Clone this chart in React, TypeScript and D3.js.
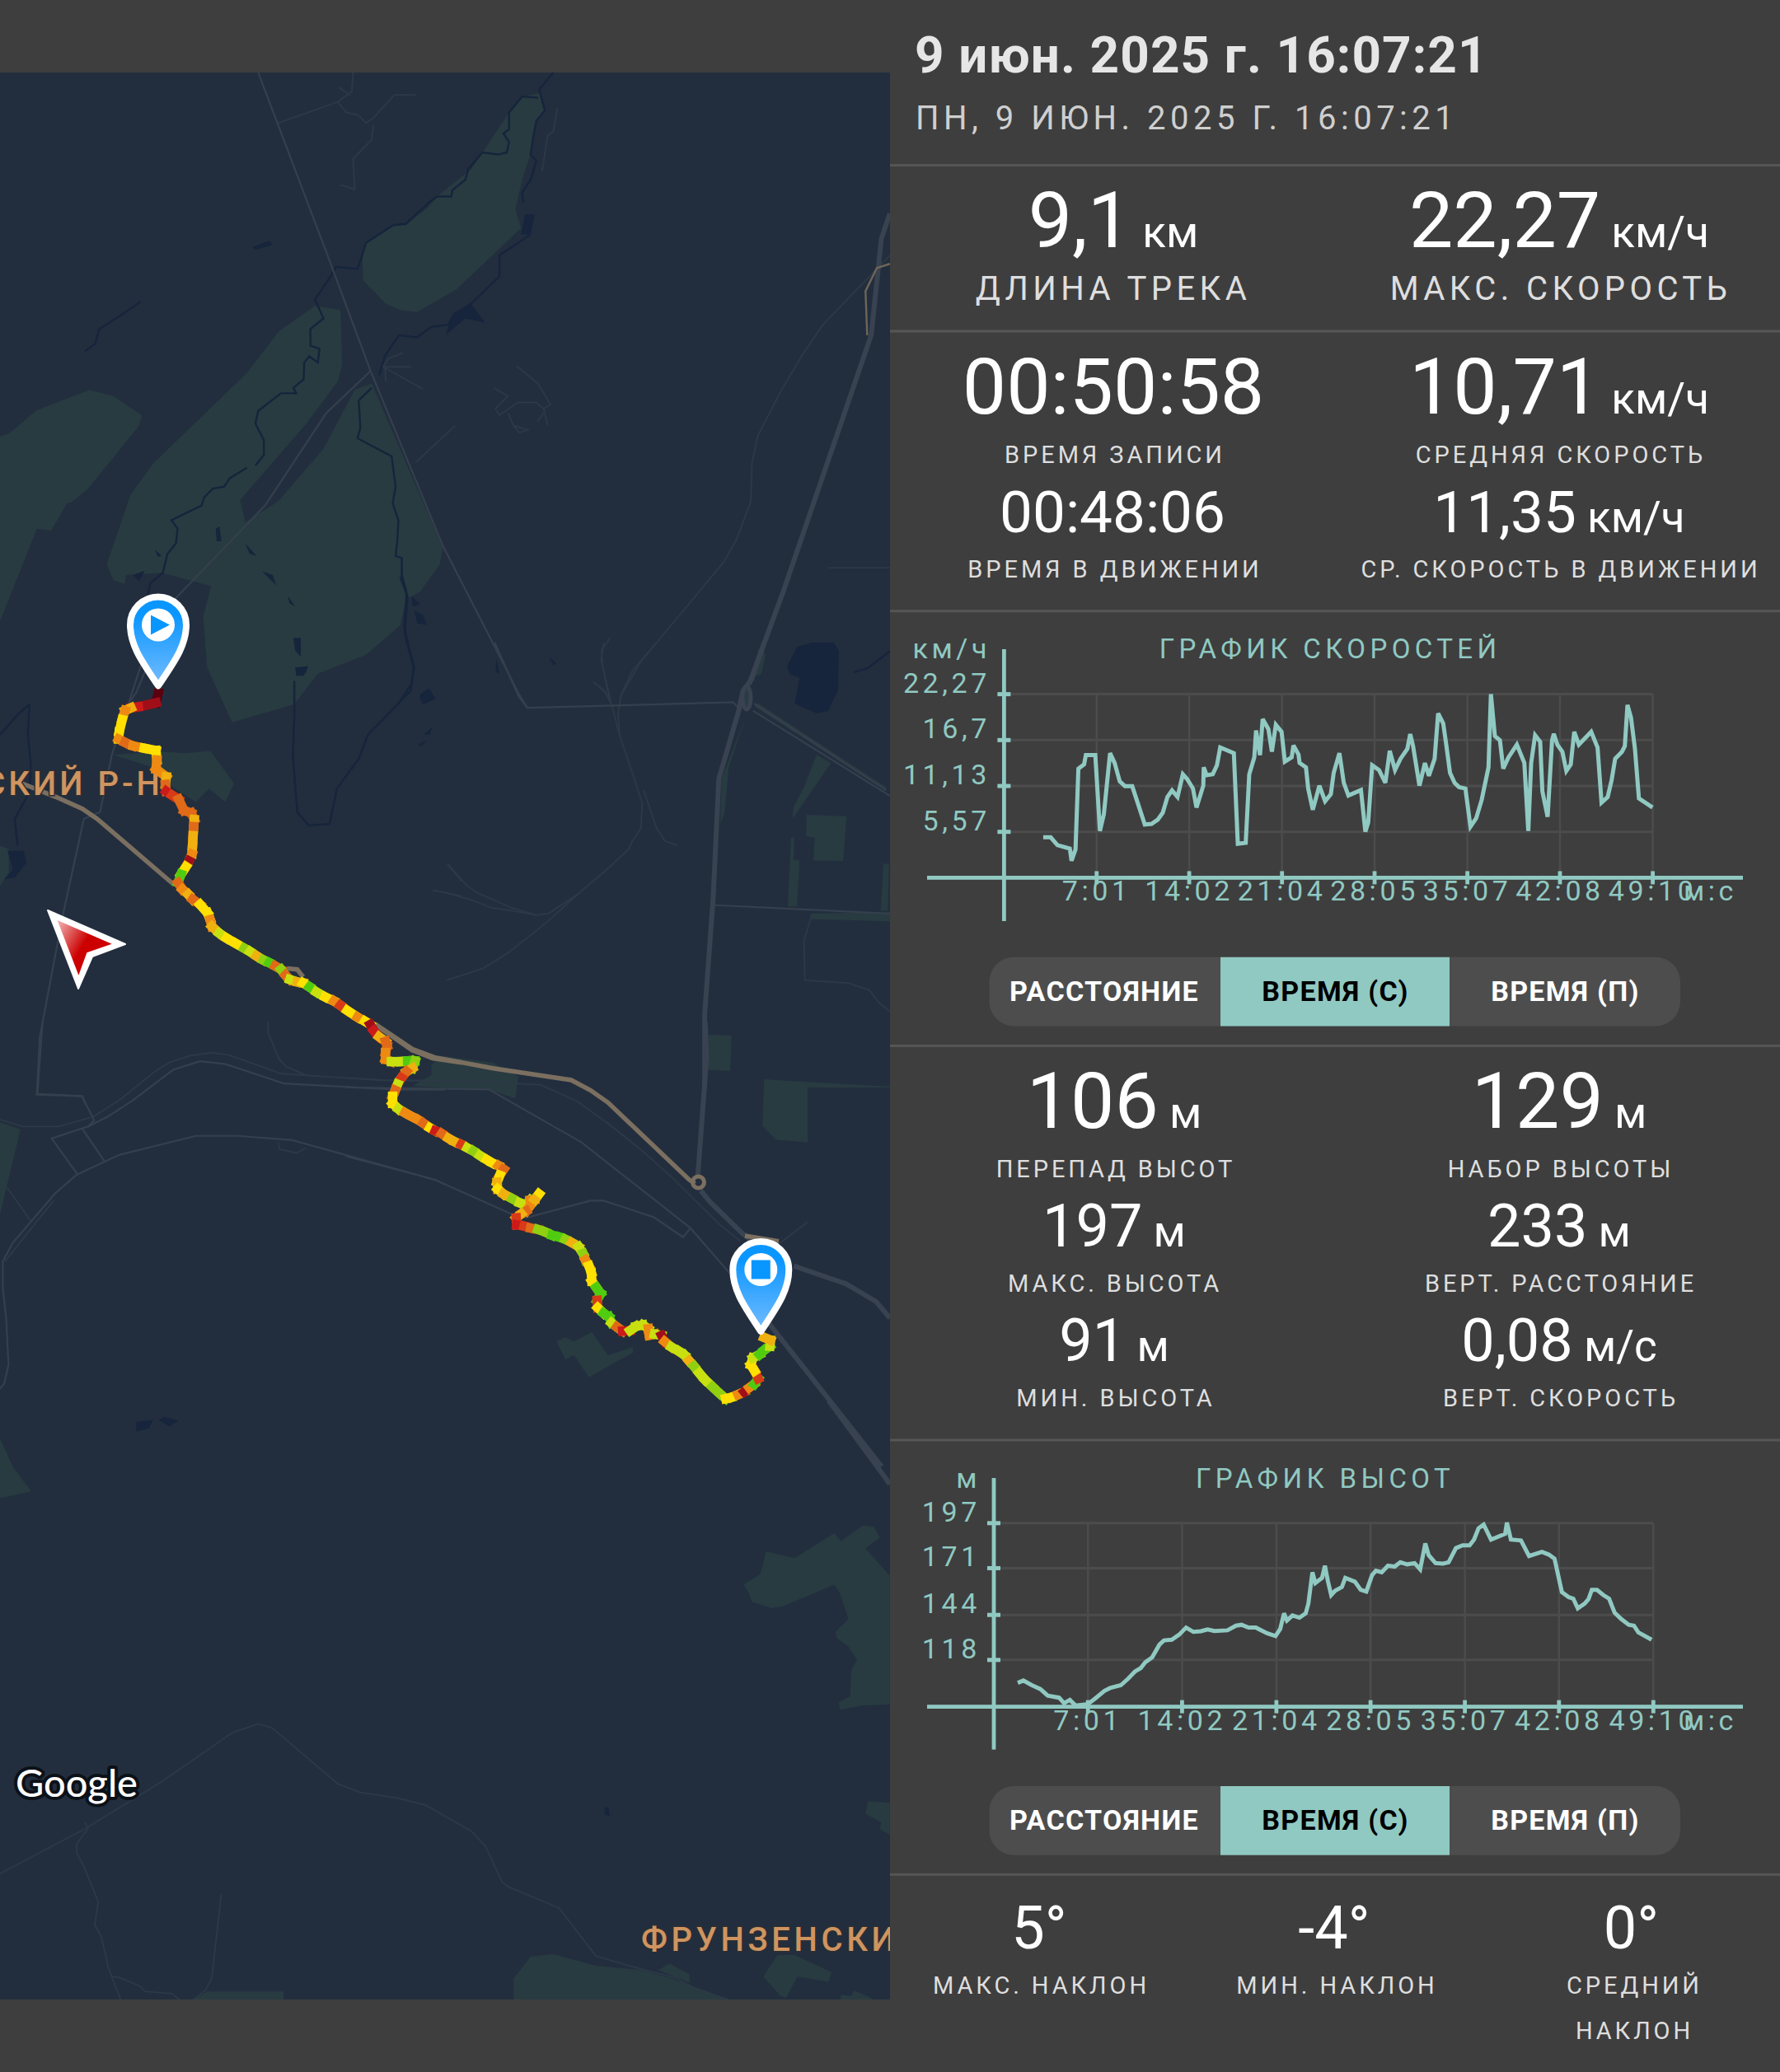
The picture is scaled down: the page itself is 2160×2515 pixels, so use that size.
import React from 'react';
import * as d3 from 'd3';

/* ---------- chart data ---------- */
const timeTickSeconds = [421, 842, 1264, 1685, 2107, 2528, 2950];
const timeTickLabels = ['7:01', '14:02', '21:04', '28:05', '35:07', '42:08', '49:10'];
const speedTicks = [5.57, 11.13, 16.7, 22.27];
const speedTickLabels = ['5,57', '11,13', '16,7', '22,27'];
const altitudeTicks = [118, 144, 171, 197];
const altitudeTickLabels = ['118', '144', '171', '197'];

const speedTimes = [178,212,243,299,307,325,338,364,372,415,436,454,482,503,526,550,583,640,671,699,722,743,764,789,813,833,859,875,906,908,921,949,968,983,1045,1063,1099,1115,1138,1146,1164,1176,1202,1218,1236,1262,1277,1308,1316,1339,1344,1373,1383,1404,1434,1460,1486,1499,1525,1545,1566,1623,1643,1656,1674,1705,1734,1754,1778,1803,1834,1847,1860,1889,1914,1932,1958,1974,1997,2010,2028,2049,2069,2098,2121,2147,2172,2203,2214,2232,2255,2270,2294,2332,2366,2384,2397,2415,2438,2448,2472,2492,2500,2516,2539,2557,2577,2593,2614,2670,2699,2717,2745,2763,2779,2810,2823,2835,2851,2869,2887,2949];
const speedValues = [4.91,4.91,3.95,3.54,2.06,3.44,13.23,13.75,14.88,14.88,5.67,7.73,15.12,13.92,11.69,11.10,11.10,6.46,6.53,7.05,7.91,9.80,10.59,9.80,12.55,11.96,10.83,8.52,11.17,13.40,12.44,12.55,13.64,15.81,15.12,4.12,4.23,12.55,14.61,17.87,14.88,19.25,18.04,15.29,18.56,17.70,14.09,14.61,16.05,14.95,13.92,13.40,10.83,8.25,11.17,9.28,10.14,12.72,15.12,11.51,9.97,10.65,5.60,6.70,13.64,13.06,11.51,15.40,13.06,14.44,15.64,17.43,15.98,11.17,13.92,12.37,14.44,19.93,18.73,16.33,12.72,11.51,11.00,10.83,6.19,7.22,9.45,13.40,22.27,17.19,16.67,13.23,14.61,16.15,13.92,5.67,13.92,17.29,16.50,10.48,7.39,16.67,17.46,16.15,15.29,12.96,13.75,17.70,16.15,17.70,15.81,9.11,9.80,11.86,14.44,15.29,15.98,20.97,19.42,15.64,9.62,8.52];

const altitudeTimes = [107,132,170,208,241,292,314,340,365,421,454,495,520,568,601,631,657,677,708,741,761,796,829,860,893,926,956,987,1045,1083,1108,1139,1172,1222,1260,1281,1298,1311,1336,1367,1395,1407,1425,1438,1468,1481,1494,1509,1527,1557,1572,1615,1641,1666,1692,1709,1735,1763,1793,1818,1849,1882,1907,1930,1945,1976,2009,2034,2067,2097,2128,2148,2168,2191,2224,2287,2295,2313,2358,2394,2452,2483,2508,2541,2572,2592,2612,2643,2660,2675,2698,2726,2752,2777,2807,2840,2863,2883,2942];
const altitudeValues = [104.8,106.1,103.4,101.2,97.4,96.2,93,94.9,91.7,92.5,95.8,100.2,101.8,103.4,107.2,111.3,113.3,116.6,119.5,126.9,129.3,129.7,132.6,136.7,134.2,134.6,135.6,134.7,135.1,137.8,138.3,136.7,136.7,133.4,131.8,135.9,144.9,140.8,143.7,142.4,144.9,150.6,168.6,162.4,165.4,172.4,163.7,155.5,158,160.1,165.4,163.2,158.5,157.5,167,169.5,168.6,172.4,171.9,174.4,173.2,173.9,170.3,185.3,178.5,173.9,173.6,174.4,182.6,184.2,184.2,187.5,194,196.2,187.5,190.8,197.3,187.5,187,178,180.4,178.8,176.5,157.2,154.2,153.4,147.8,150.6,153.1,158.5,158.5,155.5,153.4,145.2,141.6,138.3,137.8,133.9,129.7];

/* ---------- route: grid x, grid y, speed band ---------- */
const speedBandColors = ['#5a0010','#a00f18','#cc1a1a','#d83a18','#e06a18','#ee8a12','#f0b010','#ffe000','#c8e010','#90d010','#50cc10'];
const routeNorth: number[][] = [[538,345,0],[530,375,1],[497,382,1],[470,387,2],[445,390,6],[425,398,5],[415,425,7],[405,462,7],[403,483,5],[425,493,4],[452,503,5],[490,510,7],[530,517,7],[533,545,5],[530,572,5],[565,595,6],[562,618,4],[565,638,2],[585,650,3],[607,662,4],[625,695,4],[650,703,4],[660,722,6],[658,743,4],[656,770,6],[654,800,6],[652,825,5],[642,845,1],[632,862,7],[615,885,10],[605,910,4],[620,930,5],[640,945,6],[655,960,4],[680,975,7],[705,1000,7],[714,1020,5],[720,1040,6],[745,1060,8],[770,1075,7],[800,1090,7],[830,1105,9],[850,1115,8],[872,1128,6],[895,1140,9],[915,1148,10],[935,1158,4],[955,1168,9],[970,1185,4],[985,1198,8],[1010,1205,6],[1030,1208,7],[1052,1220,10],[1075,1235,8],[1105,1250,7],[1135,1262,5],[1157,1275,3],[1180,1290,7],[1215,1310,5],[1240,1322,7],[1258,1332,1],[1270,1350,2],[1288,1368,6],[1310,1382,4],[1315,1395,4],[1310,1415,5],[1310,1435,5],[1330,1442,8],[1360,1442,8],[1385,1440,10],[1410,1440,9]];
const routeSouth: number[][] = [[225,170,6],[205,182,4],[188,205,3],[175,228,8],[167,250,4],[158,272,7],[158,298,7],[178,318,8],[200,332,5],[222,345,5],[245,358,5],[262,370,4],[285,387,7],[303,398,2],[325,408,4],[348,425,6],[368,437,6],[392,448,3],[412,460,8],[433,472,9],[455,488,8],[478,503,7],[497,515,7],[518,525,5],[535,538,4],[522,560,7],[513,585,6],[515,610,7],[535,628,6],[565,645,9],[590,660,8],[610,667,8],[625,650,5],[640,648,6],[655,628,7],[640,650,6],[622,675,5],[612,690,4],[595,700,6],[578,715,3],[580,740,2],[605,745,3],[627,752,4],[652,757,9],[678,767,9],[700,778,10],[725,785,10],[745,793,9],[767,805,6],[790,820,8],[805,845,9],[813,868,5],[825,890,7],[833,915,7],[835,945,7],[850,968,10],[865,990,10],[853,1015,3],[855,1042,7],[875,1062,10],[893,1075,10],[902,1097,8],[920,1112,4],[940,1127,2],[965,1125,8],[985,1110,8],[1008,1105,8],[1027,1118,5],[1030,1142,5],[1048,1138,8],[1072,1143,1],[1082,1165,5],[1105,1185,8],[1130,1200,8],[1150,1215,8],[1165,1235,6],[1182,1255,9],[1200,1280,8],[1220,1305,8],[1245,1330,9],[1270,1355,9],[1290,1373,7],[1310,1368,7],[1332,1358,5],[1353,1348,1],[1370,1333,5],[1387,1320,10],[1400,1300,3],[1388,1272,7],[1375,1250,7],[1382,1225,8],[1405,1212,10],[1420,1197,10],[1440,1182,8],[1442,1160,6],[1420,1150,5]];

/* ---------- basemap geometry, in grid units per map sheet ---------- */
type Feat = [string, number[]];
const forests: Feat[] = [
  ['N',[948,105,920,112,897,150,865,215,830,285,770,350,755,375,715,418,695,418,645,460,638,490,640,550,680,605,705,620,735,625,805,570,918,425,908,380,922,300,935,250,945,170,960,145,952,105]],
  ['N',[555,610,600,620,603,750,595,790,540,890,423,1072,432,1125,490,1075,570,950,625,810,655,795,780,1185,775,1225,740,1290,715,1310,705,1370,645,1440,560,1485,518,1558,409,1601,365,1470,358,1350,372,1277,285,1245,222,1250,220,1272,200,1262,188,1225,230,1060,270,985,435,770,492,670]],
  ['N',[0,920,15,915,65,858,158,810,200,825,250,870,245,895,155,1045,125,1078,118,1080,90,1145,65,1140,0,1360]],
  ['A',[385,530,540,520,630,525,715,518,795,615,765,670,710,630,665,670,560,610,510,565]],
  ['A',[0,800,30,810,30,880,0,920]],
  ['W',[0,355,72,380,0,680]],
  ['W',[0,1470,45,1568,0,1568]],
  ['S',[1310,430,1340,405,1350,352,1400,368,1470,310,1482,328,1520,292,1540,295,1550,320,1525,345,1568,410,1568,710,1520,712,1480,722,1478,705,1498,690,1500,630,1510,605,1495,575,1475,555,1472,540,1495,510,1480,450,1470,430,1380,480,1360,485,1325,470,1320,450]],
  ['S',[905,1400,905,1350,935,1298,975,1293,1050,1320,1130,1330,1185,1350,1285,1400]],
  ['S',[1160,1330,1180,1315,1215,1340,1215,1360]],
  ['S',[1345,1345,1370,1295,1400,1295,1465,1335,1460,1358,1405,1345,1385,1395,1375,1390]],
  ['S',[1480,1400,1482,1388,1500,1390,1505,1378,1535,1395,1538,1400]],
  ['S',[340,1400,365,1380,500,1380,500,1400]],
  ['S',[1530,935,1568,940,1568,1015,1550,1000,1553,985,1525,965]],
  ['S',[0,115,55,212,0,228]],
  ['B',[715,1165,745,1150,775,1165,835,1130,890,1215,975,1185,975,1205,825,1295,775,1215,745,1230]],
  ['B',[1230,50,1310,55,1305,180,1230,175]],
  ['B',[1420,210,1568,225,1568,440,1460,430,1415,380]],
  ['B',[290,155,330,125,500,150,585,200,575,280,490,250,225,235,290,195]],
  ['E',[1310,395,1360,425,1225,620,1228,580,1265,510]],
  ['E',[1275,607,1415,612,1403,770,1298,768,1303,688,1272,682]],
  ['E',[1220,688,1230,688,1228,765,1250,768,1240,930,1208,930]],
  ['E',[1545,780,1565,780,1560,945,1535,945]],
  ['E',[1290,955,1568,950,1568,982,1285,975]],
  ['E',[932,1382,1008,1385,1003,1440,988,1472,1005,1475,1005,1510,925,1505]],
  ['E',[1130,1540,1568,1565,1568,1568,1128,1568]],
  ['E',[1060,260,1040,320,1000,440,985,600,970,640,975,480]],
  ['E',[1105,20,1130,40,1115,110,1090,120]],
  ['E',[1090,225,1555,525,1555,510,1105,215]],
];
const ponds: Feat[] = [
  ['E',[1205,85,1240,15,1290,0,1370,0,1388,30,1385,170,1350,240,1310,250,1232,215,1250,125,1215,110]],
  ['N',[445,470,475,455,480,465,450,477]],['N',[380,1140,387,1135,390,1170,382,1170]],['N',[273,1190,285,1205,278,1207]],
  ['N',[235,1250,255,1240,245,1265]],['N',[432,1175,452,1205,440,1200]],['N',[462,1242,480,1250,487,1275]],
  ['N',[507,1300,520,1325,510,1318]],['N',[517,1400,530,1400,530,1445,520,1430]],['N',[520,1470,543,1468,535,1490,522,1490]],
  ['N',[725,1300,740,1320,727,1325]],['N',[730,1335,745,1345,753,1370,735,1365]],['N',[740,1535,755,1520,767,1545,745,1558]],
  ['N',[875,1450,880,1485,873,1480]],['N',[967,1445,980,1460,975,1465]],['N',[795,640,830,605,855,650,820,640,785,680]],
  ['N',[925,392,942,392,935,440,918,440]],
  ['S',[240,50,270,45,262,65,240,72]],['S',[280,45,290,38,315,47,298,60]],['S',[1065,950,1072,950,1075,970,1065,968]],
  ['A',[1425,360,1460,335,1478,360,1440,380]],['A',[1440,470,1470,445,1460,470]],['A',[1420,500,1450,485,1430,505]],
  ['A',[1005,275,1045,265,1040,285,1010,295]],['A',[25,815,80,815,90,850,50,895,15,900,45,870]],
];
const streams: Feat[] = [
  ['N',[975,55,950,95,960,145,945,170,940,205,935,250,945,265,935,310,920,340,922,365]],
  ['N',[935,440,880,490,880,540,830,605]],
  ['N',[948,115,920,112,897,150,897,190,887,200,897,220,893,245,878,250,850,245,825,285,820,310,797,335,795,350,770,350,755,365,715,415,693,418,645,460,638,490,630,522,592,517,585,535,555,595,570,640,547,665,547,705,563,712,560,745,545,730,536,745,535,785,517,805,522,818,495,818,455,860,450,890,465,930,465,965,450,990]],
  ['N',[435,995,405,1020,395,1040,375,1045,360,1065,355,1085,302,1120,313,1140,310,1175,295,1200,287,1245,265,1270,258,1310]],
  ['N',[830,605,800,630,790,655,760,660,735,685,703,680,690,705,678,730,668,775]],
  ['N',[655,805,632,835,635,900,630,925,690,968,697,1040,692,1080,702,1120,700,1170,697,1205,708,1210,708,1250,716,1290,716,1310,712,1370,720,1420,730,1470,725,1510,700,1560]],
  ['N',[248,600,210,635,175,665,168,700,150,718]],
  ['E',[1440,105,1490,90,1568,30]],
  ['A',[1000,310,1000,420,995,530,1010,700,1050,740,1120,735,1145,630,1220,540,1250,470,1395,340,1405,270,1375,170,1385,60,1360,0]],
  ['A',[100,380,60,410,0,470]],['A',[100,380,95,470,105,560,100,640,50,720,60,800]],
];
const thinRoads: Feat[] = [
  ['N',[455,55,580,500,653,765,780,1180,915,1535,930,1568]],
  ['N',[653,765,575,865,467,1085,310,1305,240,1530,220,1568]],
  ['A',[480,260,380,530,340,700,285,720,215,1000,135,1370,125,1540,280,1545,290,1568]],
  ['E',[175,0,260,190,290,230,1015,210,1040,235]],
  ['E',[940,925,1568,955]],
  ['E',[1090,215,1555,520]],['E',[1085,240,1568,540]],
  ['W',[150,0,132,255,288,262,332,348,310,370,182,412,272,537]],
  ['W',[288,375,368,492]],
  ['W',[310,370,380,335,465,280,610,170,705,140,795,150,1000,218,1400,240,1568,240]],
  ['W',[0,1295,15,1275,30,1210,22,1050,10,940,10,845,45,780,195,605,270,540,420,470,690,403,840,403,1030,418,1540,560,1568,575]],
  ['B',[0,240,485,247,800,440,1170,752,1290,900,1340,960]],
  ['B',[0,490,300,575,560,700,610,715,830,652,875,652,1045,712,1145,785,1170,752]],
];
const faintRoads: Feat[] = [
  ['N',[490,175,595,125,620,100,622,55]],['N',[595,125,610,150,630,155,645,175,660,160,695,108,733,108]],['N',[597,90,618,110]],
  ['N',[658,180,655,215,622,260,625,333,600,322]],['N',[955,290,965,205,975,195,982,140]],
  ['N',[710,722,685,735,675,755,745,808]],['N',[680,790,678,755,725,755]],
  ['N',[910,753,948,795,970,845,958,855,945,840,912,840,880,870,873,855,895,825,870,805]],
  ['N',[895,865,905,895,930,905,915,912,905,895]],['N',[958,855,965,895]],['N',[958,865,947,885]],['N',[733,982,802,895]],['N',[1460,1233,1568,1233]],
  ['N',[1568,490,1500,585,1450,655,1412,730,1375,815,1335,920,1325,985,1323,1075,1298,1165,1275,1220,1130,1455,1095,1535,1090,1568]],
  ['N',[1075,1400,1060,1430,1062,1470,1075,1555]],['N',[1045,1505,1065,1525,1078,1560]],
  ['E',[560,0,550,60,585,210,615,325,652,435,695,565,690,655,660,700,645,730,570,800,470,885,360,985,250,1072,220,1095,135,1148,5,1190]],
  ['E',[745,0,690,65,660,100,620,185,610,250,615,325]],['E',[525,140,560,170,585,210]],['E',[700,520,745,652,775,700,820,715]],
  ['E',[10,780,75,855,110,880,235,935,320,960,365,955,470,885]],['E',[0,880,95,908,165,935,235,945,320,960]],
  ['E',[1290,970,1265,1050,1268,1190,1420,1200,1495,1225,1535,1275,1568,1300]],
  ['W',[0,345,80,370,205,370,330,335,430,270,540,180,595,145,670,120,745,110,805,117,940,165,990,183,1115,192,1350,207,1568,210]],
  ['W',[25,585,110,705]],['W',[945,0,945,40,985,135,1010,160,1075,187]],['W',[980,425,985,450,1045,463,1080,445]],['W',[18,845,105,735,190,630]],
  ['A',[1520,855,1568,905]],['A',[1470,932,1568,950]],
  ['B',[0,205,125,213,380,215,660,230,785,290,895,375,1000,465,1100,560,1270,740,1340,800]],
  ['B',[1470,810,1568,730]],
  ['S',[0,1105,150,1000,285,890,410,775,455,755,480,765,595,895,635,915,700,928,750,945,830,1005,855,1040,885,1125,895,1135,985,1185,1050,1297,1130,1328,1190,1348,1220,1370,1285,1400]],
  ['S',[150,985,155,1000,135,1035,135,1055,150,1095,173,1170,167,1225,178,1250,187,1300,190,1322,213,1400]],
  ['S',[197,1345,210,1347,247,1368,255,1380,303,1385,317,1400]],['S',[340,1400,362,1377,373,1350,390,1152]],
];
const majorRoads: Feat[] = [
  ['N',[1568,390,1553,450,1535,680,1380,1290,1320,1510]],
  ['E',[1125,0,1080,130,1050,170,1035,240,965,480,945,900,915,1310,915,1568]],
  ['B',[1220,0,1225,130,1195,560]],
  ['B',[1205,615,1235,655,1345,770,1440,850]],
  ['F',[1000,380,1410,900]],
  ['F',[1090,170,1280,235,1390,300,1440,360]],
  ['S',[1460,0,1568,195]],
];
const brownRoads: Feat[] = [
  ['A',[75,615,190,655,280,690,330,720,590,915]],
  ['A',[975,1165,1010,1168,1030,1190]],
  ['A',[1280,1335,1400,1408,1470,1432,1568,1445]],
  ['B',[100,10,225,100,300,130,500,170,765,213,830,250,890,295,1165,575,1185,590]],
  ['B',[1355,780,1470,800]],
];
const tanRoads: Feat[] = [
  ['N',[1568,510,1545,520,1525,575,1528,680]],
];

/* grid origin and grid units per pixel for each map sheet */
const sheetFrames: Record<string, number[]> = {
  N: [0, 60, 1.452, 1.96],
  S: [0, 1700, 1.452, 1.924],
  E: [540, 780, 2.904, 2.904],
  W: [0, 1240, 2.904, 2.904],
  A: [0, 700, 2.8, 2.45],
  B: [420, 1240, 2.8, 3],
  F: [600, 1480, 3, 3],
};
const sheetScale = (key: string) => {
  const [x0, y0, kx, ky] = sheetFrames[key];
  return {
    x: d3.scaleLinear().domain([0, 1]).range([x0, x0 + 1 / kx]),
    y: d3.scaleLinear().domain([0, 1]).range([y0, y0 + 1 / ky]),
  };
};
const featPoints = ([key, flat]: Feat): [number, number][] => {
  const s = sheetScale(key);
  const out: [number, number][] = [];
  for (let i = 0; i < flat.length; i += 2) out.push([s.x(flat[i]), s.y(flat[i + 1])]);
  return out;
};
const openPath = d3.line();
const lineOf = (f: Feat) => openPath(featPoints(f)) as string;
const polyOf = (f: Feat) => lineOf(f) + 'Z';

const PANEL = '#3e3e3e';
const TEAL = '#90c9c2';
const GRID = '#4c4c4c';
const FONT = 'Roboto';

const Txt = ({ x, y, size, fill = '#fff', anchor = 'middle', weight = 400, ls = 0, children }: any) => (
  <text x={x} y={y} fontSize={size} fill={fill} textAnchor={anchor} fontWeight={weight} letterSpacing={ls} fontFamily={FONT}>
    {children}
  </text>
);

const Stat = ({ x, y, size, unit, unitSize = 53, children }: any) => (
  <Txt x={x} y={y} size={size}>
    {children}
    {unit ? <tspan fontSize={unitSize}>{' ' + unit}</tspan> : null}
  </Txt>
);

const Label = ({ x, y, size = 29, children }: any) => (
  <Txt x={x + 2} y={y} size={size} fill="#dedede" ls={size * 0.135}>{children}</Txt>
);

const Divider = ({ y }: { y: number }) => <rect x={1080} y={y - 1.5} width={1080} height={3} fill="#565656" />;

const Toggle = ({ top, baseline }: { top: number; baseline: number }) => {
  const left = 1200.5, right = 2039, height = 83.7, r = 30;
  const selL = 1481, selR = 1759;
  return (
    <g>
      <rect x={left} y={top} width={right - left} height={height} rx={r} fill="#4d4d4d" />
      <rect x={selL} y={top} width={selR - selL} height={height} fill={TEAL} />
      <Txt x={1340} y={baseline} size={34} weight={700} ls={1.3}>РАССТОЯНИЕ</Txt>
      <Txt x={1620.5} y={baseline} size={34} weight={700} ls={1.3} fill="#000">ВРЕМЯ (С)</Txt>
      <Txt x={1899.5} y={baseline} size={34} weight={700} ls={1.3}>ВРЕМЯ (П)</Txt>
    </g>
  );
};

type ChartProps = {
  times: number[]; values: number[]; ticks: number[]; tickLabels: string[];
  yDomain: [number, number]; xRange: [number, number]; yRange: [number, number];
  axisTop: number; axisBottom: number; labelRight: number; labelDy: number;
  unit: string; title: string; titleX: number; titleY: number; xLabelY: number;
};

const LineChart = (p: ChartProps) => {
  const x = d3.scaleLinear().domain([0, 2950]).range(p.xRange);
  const y = d3.scaleLinear().domain(p.yDomain).range(p.yRange);
  const path = d3.line<number>().x((_, i) => x(p.times[i])).y((v) => y(v)).curve(d3.curveLinear);
  const x0 = p.xRange[0], y0 = p.yRange[0];
  const xEnd = x(timeTickSeconds[6]);
  const yTop = y(p.ticks[3]);
  return (
    <g>
      {p.ticks.map((t) => <line key={t} x1={x0} x2={xEnd} y1={y(t)} y2={y(t)} stroke={GRID} strokeWidth={3} />)}
      {timeTickSeconds.map((t) => <line key={t} x1={x(t)} x2={x(t)} y1={yTop} y2={y0} stroke={GRID} strokeWidth={2.5} />)}
      <path d={path(p.values) as string} fill="none" stroke={TEAL} strokeWidth={5} strokeLinejoin="miter" strokeMiterlimit={3} />
      <rect x={1125} y={y0 - 2.4} width={990} height={4.8} fill={TEAL} />
      <rect x={x0 - 2.4} y={p.axisTop} width={4.8} height={p.axisBottom - p.axisTop} fill={TEAL} />
      {p.ticks.map((t, i) => (
        <g key={t}>
          <rect x={x0 - 8} y={y(t) - 2.5} width={16} height={5} fill={TEAL} />
          <Txt x={p.labelRight} y={y(t) + p.labelDy} size={34} fill={TEAL} anchor="end" ls={4.6}>{p.tickLabels[i]}</Txt>
        </g>
      ))}
      {timeTickSeconds.map((t, i) => (
        <g key={t}>
          <rect x={x(t) - 2.4} y={y0 - 8} width={4.8} height={16} fill={TEAL} />
          <Txt x={x(t)} y={p.xLabelY} size={34} fill={TEAL} ls={4.6}>{timeTickLabels[i]}</Txt>
        </g>
      ))}
      <Txt x={2108} y={p.xLabelY} size={34} fill={TEAL} anchor="end" ls={4.6}>м:с</Txt>
      <Txt x={p.labelRight} y={p.titleY} size={34} fill={TEAL} anchor="end" ls={4.6}>{p.unit}</Txt>
      <Txt x={p.titleX} y={p.titleY} size={33} fill={TEAL} ls={5.4}>{p.title}</Txt>
    </g>
  );
};

const dropPath = (r: number, h: number) =>
  `M0,${h}C${-r * 0.55},${h * 0.62} ${-r},${h * 0.35} ${-r},0A${r},${r} 0 1 1 ${r},0C${r},${h * 0.35} ${r * 0.55},${h * 0.62} 0,${h}Z`;

const Pin = ({ cx, cy, h, children }: any) => (
  <g transform={`translate(${cx},${cy})`}>
    <path d={dropPath(34, h)} fill="url(#pinFill)" stroke="#fff" strokeWidth={8} strokeLinejoin="round" />
    <circle r={20} fill="#fff" />
    {children}
  </g>
);

const Route = () => {
  const a = sheetScale('A');
  const b = sheetScale('B');
  const pts = [
    ...routeNorth.map((p) => [a.x(p[0]), a.y(p[1]), p[2]]),
    ...routeSouth.map((p) => [b.x(p[0]), b.y(p[1]), p[2]]),
  ];
  const color = d3.scaleOrdinal<number, string>().domain(d3.range(speedBandColors.length)).range(speedBandColors);
  return (
    <g>
      {pts.slice(0, -1).map((p, i) => (
        <line key={i} x1={p[0]} y1={p[1]} x2={pts[i + 1][0]} y2={pts[i + 1][1]}
          stroke={color(p[2])} strokeWidth={11.5} strokeLinecap="square" />
      ))}
    </g>
  );
};

export default function App() {
  const leftC = 1351, rightC = 1892, low = 1352, lowR = 1892;
  return (
    <svg width={2160} height={2515} viewBox="0 0 2160 2515"
      style={{ position: 'absolute', left: 0, top: 0, display: 'block' }}>
      <defs>
        <clipPath id="mapClip"><rect x={0} y={88} width={1080} height={2339} /></clipPath>
        <linearGradient id="pinFill" x1="0" y1="0" x2="0" y2="1">
          <stop offset="0.2" stopColor="#0a96ff" />
          <stop offset="1" stopColor="#74bcff" />
        </linearGradient>
        <linearGradient id="navFill" x1="0" y1="0" x2="1" y2="0.6">
          <stop offset="0" stopColor="#f2b8b8" />
          <stop offset="0.55" stopColor="#cc0000" />
        </linearGradient>
      </defs>
      <rect width={2160} height={2515} fill={PANEL} />

      {/* map */}
      <g clipPath="url(#mapClip)">
        <rect x={0} y={88} width={1080} height={2339} fill="#222e3e" />
        {forests.map((f, i) => <path key={i} d={polyOf(f)} fill="#283b41" />)}
        {ponds.map((f, i) => <path key={i} d={polyOf(f)} fill="#16243c" />)}
        {streams.map((f, i) => <path key={i} d={lineOf(f)} fill="none" stroke="#16243c" strokeWidth={2.4} />)}
        {faintRoads.map((f, i) => <path key={i} d={lineOf(f)} fill="none" stroke="#2d3947" strokeWidth={1.8} />)}
        {thinRoads.map((f, i) => <path key={i} d={lineOf(f)} fill="none" stroke="#353f4d" strokeWidth={2.2} />)}
        {majorRoads.map((f, i) => <path key={i} d={lineOf(f)} fill="none" stroke="#384250" strokeWidth={6} />)}
        {tanRoads.map((f, i) => <path key={i} d={lineOf(f)} fill="none" stroke="#6e6558" strokeWidth={2.4} />)}
        {brownRoads.map((f, i) => <path key={i} d={lineOf(f)} fill="none" stroke="#7b6f60" strokeWidth={5.5} />)}
        <circle cx={847.5} cy={1435} r={7} fill="none" stroke="#7b6f60" strokeWidth={5} />
        <ellipse cx={906} cy={847} rx={5} ry={14} fill="#2a3c43" stroke="#384250" strokeWidth={5} />

        <text x={778} y={2368} fontSize={40} letterSpacing={4.6} fill="#cf9460" fontFamily={FONT} fontWeight={500}
          stroke="#2b2e33" strokeWidth={3} paintOrder="stroke">ФРУНЗЕНСКИЙ Р-Н</text>
        <text x={198} y={965} fontSize={40} letterSpacing={4} textAnchor="end" fill="#cf9460" fontFamily={FONT} fontWeight={500}
          stroke="#2b2e33" strokeWidth={3} paintOrder="stroke">СКИЙ Р-Н</text>

        <Route />

        <Pin cx={192} cy={758.4} h={74}>
          <path d="M-9,-12 L14,0 L-9,12Z" fill="#0a96ff" />
        </Pin>
        <Pin cx={923.3} cy={1541} h={75}>
          <rect x={-11.5} y={-11.5} width={23} height={23} fill="#0a96ff" />
        </Pin>

        <path d="M58,1105 L152,1146 L112,1161 L95,1200Z" fill="#fff" stroke="#fff" strokeWidth={2} strokeLinejoin="round" />
        <path d="M69.6,1117 L135.7,1145.7 L105.4,1156.3 L95.4,1183.7Z" fill="url(#navFill)" />

        <text x={19} y={2181} fontSize={46} fill="#fff" fontFamily="Lato" fontWeight={500} stroke="#0c1118" strokeWidth={8}
          paintOrder="stroke" strokeLinejoin="round" textLength={148} lengthAdjust="spacingAndGlyphs">Google</text>
      </g>

      {/* header */}
      <Txt x={1110} y={88} size={62} weight={700} fill="#e6e6e6" anchor="start" ls={1.1}>9 июн. 2025 г. 16:07:21</Txt>
      <Txt x={1111} y={156.7} size={40} fill="#cfcfcf" anchor="start" ls={5.5}>ПН, 9 ИЮН. 2025 Г. 16:07:21</Txt>

      <Divider y={200.6} />
      <Stat x={leftC} y={299.7} size={95} unit="км">9,1</Stat>
      <Stat x={rightC} y={299.7} size={95} unit="км/ч">22,27</Stat>
      <Label x={leftC - 2} y={364} size={40}>ДЛИНА ТРЕКА</Label>
      <Label x={rightC} y={364} size={40}>МАКС. СКОРОСТЬ</Label>

      <Divider y={402} />
      <Stat x={leftC} y={501.6} size={95}>00:50:58</Stat>
      <Stat x={rightC} y={501.6} size={95} unit="км/ч">10,71</Stat>
      <Label x={leftC} y={561.6}>ВРЕМЯ ЗАПИСИ</Label>
      <Label x={rightC} y={561.6}>СРЕДНЯЯ СКОРОСТЬ</Label>
      <Stat x={leftC - 1} y={645.6} size={71}>00:48:06</Stat>
      <Stat x={rightC} y={645.6} size={71} unit="км/ч">11,35</Stat>
      <Label x={leftC} y={700.8}>ВРЕМЯ В ДВИЖЕНИИ</Label>
      <Label x={rightC} y={700.8}>СР. СКОРОСТЬ В ДВИЖЕНИИ</Label>

      <Divider y={741.7} />
      <LineChart times={speedTimes} values={speedValues} ticks={speedTicks} tickLabels={speedTickLabels}
        yDomain={[0, 22.27]} xRange={[1218.4, 2005.6]} yRange={[1065.4, 842.6]}
        axisTop={788} axisBottom={1118} labelRight={1202} labelDy={-2}
        unit="км/ч" title="ГРАФИК СКОРОСТЕЙ" titleX={1614} titleY={799} xLabelY={1093} />
      <Toggle top={1161.8} baseline={1215} />

      <Divider y={1269.4} />
      <Stat x={low} y={1369.3} size={95} unit="м">106</Stat>
      <Stat x={lowR} y={1369.3} size={95} unit="м">129</Stat>
      <Label x={low} y={1429}>ПЕРЕПАД ВЫСОТ</Label>
      <Label x={lowR} y={1429}>НАБОР ВЫСОТЫ</Label>
      <Stat x={low} y={1513.3} size={72} unit="м">197</Stat>
      <Stat x={lowR} y={1513.3} size={72} unit="м">233</Stat>
      <Label x={low - 1} y={1567.7}>МАКС. ВЫСОТА</Label>
      <Label x={lowR} y={1567.7}>ВЕРТ. РАССТОЯНИЕ</Label>
      <Stat x={low} y={1651.7} size={72} unit="м">91</Stat>
      <Stat x={lowR} y={1651.7} size={72} unit="м/с">0,08</Stat>
      <Label x={low} y={1706.7}>МИН. ВЫСОТА</Label>
      <Label x={lowR} y={1706.7}>ВЕРТ. СКОРОСТЬ</Label>

      <Divider y={1748} />
      <LineChart times={altitudeTimes} values={altitudeValues} ticks={altitudeTicks} tickLabels={altitudeTickLabels}
        yDomain={[91, 197]} xRange={[1206, 2006.3]} yRange={[2071.6, 1848.8]}
        axisTop={1794} axisBottom={2123.6} labelRight={1190} labelDy={-2}
        unit="м" title="ГРАФИК ВЫСОТ" titleX={1608} titleY={1805.8} xLabelY={2099.5} />
      <Toggle top={2168} baseline={2221} />

      <Divider y={2275.3} />
      <Stat x={1261} y={2365} size={72}>5°</Stat>
      <Stat x={1619} y={2365} size={72}>-4°</Stat>
      <Stat x={1979.5} y={2365} size={72}>0°</Stat>
      <Label x={1261.5} y={2420}>МАКС. НАКЛОН</Label>
      <Label x={1620.5} y={2420}>МИН. НАКЛОН</Label>
      <Label x={1981.5} y={2420}>СРЕДНИЙ</Label>
      <Label x={1981.5} y={2475}>НАКЛОН</Label>
    </svg>
  );
}
